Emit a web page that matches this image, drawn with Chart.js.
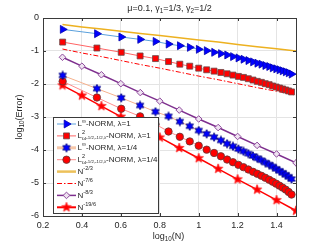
<!DOCTYPE html>
<html><head><meta charset="utf-8">
<script src="https://cdn.jsdelivr.net/npm/chart.js@4/dist/chart.umd.min.js"></script>
<style>html,body{margin:0;padding:0;background:#fff;overflow:hidden}</style>
</head><body>
<canvas id="c" width="327" height="245" style="width:327px;height:245px;display:block"></canvas>
<script>
// ---------- data ----------
const logN = [0.301,0.477,0.602,0.699,0.778,0.845,0.903,0.954,1.000,1.041,1.079,1.114,1.146,1.176,1.204,1.230,1.255,1.279,1.301,1.322,1.342,1.362,1.380,1.398,1.415,1.431,1.447,1.462,1.477];
const errLinfLam1 = [-0.345,-0.476,-0.576,-0.648,-0.71,-0.79,-0.84,-0.89,-0.95,-0.99,-1.04,-1.08,-1.12,-1.17,-1.21,-1.25,-1.29,-1.33,-1.37,-1.40,-1.44,-1.47,-1.51,-1.54,-1.57,-1.60,-1.63,-1.66,-1.70];
const errL2Lam1 = [-0.73,-0.91,-1.04,-1.15,-1.23,-1.32,-1.40,-1.46,-1.52,-1.57,-1.61,-1.65,-1.69,-1.73,-1.77,-1.80,-1.84,-1.88,-1.92,-1.95,-1.99,-2.02,-2.06,-2.09,-2.12,-2.15,-2.18,-2.21,-2.24];
const errLinfLam14 = [-1.74,-2.14,-2.42,-2.65,-2.84,-2.98,-3.14,-3.28,-3.41,-3.51,-3.61,-3.71,-3.81,-3.89,-3.97,-4.04,-4.11,-4.18,-4.25,-4.31,-4.38,-4.44,-4.50,-4.57,-4.63,-4.69,-4.75,-4.81,-4.88];
const errL2Lam14 = [-1.92,-2.41,-2.75,-2.98,-3.22,-3.44,-3.60,-3.74,-3.87,-3.99,-4.09,-4.19,-4.29,-4.37,-4.45,-4.52,-4.59,-4.66,-4.72,-4.78,-4.84,-4.90,-4.96,-5.02,-5.08,-5.14,-5.20,-5.27,-5.35];
const xRef = [0.3,0.4,0.5,0.6,0.7,0.8,0.9,1.0,1.1,1.2,1.3,1.4,1.5];
const refN23 = [-0.20,-0.27,-0.33,-0.40,-0.47,-0.53,-0.60,-0.67,-0.73,-0.80,-0.87,-0.93,-1.00];
const refN76 = [-0.94,-1.06,-1.17,-1.29,-1.41,-1.52,-1.64,-1.76,-1.87,-1.99,-2.11,-2.22,-2.34];
const refN83 = [-1.19,-1.46,-1.72,-1.99,-2.26,-2.52,-2.79,-3.06,-3.32,-3.59,-3.86,-4.12,-4.39];
const refN196 = [-2.04,-2.35,-2.67,-2.99,-3.30,-3.62,-3.94,-4.25,-4.57,-4.89,-5.20,-5.52,-5.84];
const xTickVals = [0.2,0.4,0.6,0.8,1.0,1.2,1.4];
const xTickLabels = ['0.2','0.4','0.6','0.8','1','1.2','1.4'];
const yTickVals = [-6,-5,-4,-3,-2,-1,0];
const yTickLabels = ['-6','-5','-4','-3','-2','-1','0'];

const FAM = "'Liberation Sans', Arial, Helvetica, sans-serif";
const TXT = '#262626';

function pts(xs, ys){ return xs.map((x,i)=>({x:x, y:ys[i]})); }

function starCanvas(n, rOut, rIn, fill, stroke, size){
  const c = document.createElement('canvas'); c.width = size; c.height = size;
  const g = c.getContext('2d'); g.beginPath();
  for (let i=0;i<n*2;i++){ const r = i%2 ? rIn : rOut; const a = -Math.PI/2 + i*Math.PI/n;
    g.lineTo(size/2 + r*Math.cos(a), size/2 + r*Math.sin(a)); }
  g.closePath(); g.fillStyle = fill; g.fill(); g.strokeStyle = stroke; g.lineWidth = 0.8; g.stroke();
  return c;
}
const penta = starCanvas(5, 5, 2.1, '#FF0000', '#FF2020', 12);
const hexa = starCanvas(6, 4.3, 2.4, '#0000FF', '#00007A', 10);

const series = [
  {key:'A', data:pts(logN, errLinfLam1), line:'#5AA0DC', lw:1, style:'triangle', rot:90, r:4.6, bg:'#0000FF', bc:'#0000B0', bw:0.8},
  {key:'B', data:pts(logN, errL2Lam1), line:'#FF6464', lw:1, style:'rect', rot:0, r:4.2, bg:'#FF0000', bc:'#6A4848', bw:0.8},
  {key:'C', data:pts(logN, errLinfLam14), line:'#F5B08C', lw:1, style:hexa, rot:0, r:4, bg:'#0000FF', bc:'#00007A', bw:0},
  {key:'D', data:pts(logN, errL2Lam14), line:'#FF8C8C', lw:1, style:'circle', rot:0, r:3.7, bg:'#FF0000', bc:'#603838', bw:0.8},
  {key:'E', data:pts(xRef, refN23), line:'#EDB120', lw:1.5, style:false},
  {key:'F', data:pts(xRef, refN76), line:'#FF0000', lw:1, style:false, dash:[5,2,1.5,2]},
  {key:'G', data:pts(xRef, refN83), line:'#7E2F8E', lw:1.5, style:'rectRot', rot:0, r:3.3, bg:'#EEE2F0', bc:'#8E4A9C', bw:1},
  {key:'H', data:pts(xRef, refN196), line:'#FF0000', lw:1.5, style:penta, rot:0, r:5, bg:'#FF0000', bc:'#FF0000', bw:0}
];

const datasets = series.map(s => ({
  data: s.data, showLine: true, borderColor: s.line, borderWidth: s.lw, borderDash: s.dash || [],
  pointStyle: s.style === false ? 'circle' : s.style,
  pointRadius: s.style === false ? 0 : s.r,
  pointRotation: s.rot || 0,
  pointBackgroundColor: s.bg || s.line, pointBorderColor: s.bc || s.line,
  pointBorderWidth: s.bw || 0, pointHoverRadius: s.style === false ? 0 : s.r,
  tension: 0, fill: false
}));

// rich text: parts [text, level, noAdvance]; level 0 normal, 1 sup, -1 sub, 3 tiny index
function rich(ctx, parts, x, y, base, draw){
  let cx = x;
  for (const p of parts){
    const t = p[0], lv = p[1], keep = p[2];
    let size = base, dy = 0;
    if (lv === 1){ size = base*0.7; dy = -base*0.38; }
    else if (lv === -1){ size = base*0.7; dy = base*0.32; }
    else if (lv === 3){ size = base*0.55; dy = base*0.2; }
    ctx.font = size + 'px ' + FAM;
    if (draw) ctx.fillText(t, cx, y + dy);
    if (!keep) cx += ctx.measureText(t).width;
  }
  return cx - x;
}
function richCentered(ctx, parts, cx, y, base){
  const w = rich(ctx, parts, 0, 0, base, false);
  rich(ctx, parts, cx - w/2, y, base, true);
}

const legendItems = [
  {s:0, text:[['L',0],['\u221E',1],['-NORM, \u03BB=1',0]]},
  {s:1, text:[['L',0],['2',1,true],['\u03C9',-1],['-1/2,-1/2,\u03BB',3],['-NORM, \u03BB=1',0]]},
  {s:2, text:[['L',0],['\u221E',1],['-NORM, \u03BB=1/4',0]], lw:3, lc:'#F6C7AA'},
  {s:3, text:[['L',0],['2',1,true],['\u03C9',-1],['-1/2,-1/2,\u03BB',3],['-NORM, \u03BB=1/4',0]]},
  {s:4, text:[['N',0],['-2/3',1]], lw:2.5, lc:'#EDC15A'},
  {s:5, text:[['N',0],['-7/6',1]]},
  {s:6, text:[['N',0],['-8/3',1]]},
  {s:7, text:[['N',0],['-19/6',1]], lw:2}
];

function drawMarker(ctx, s, x, y){
  if (s.style === false) return;
  ctx.save();
  ctx.fillStyle = s.bg; ctx.strokeStyle = s.bc; ctx.lineWidth = s.bw;
  if (Chart.helpers && Chart.helpers.drawPoint){
    Chart.helpers.drawPoint(ctx, {pointStyle:s.style, rotation:s.rot||0, radius:s.r, borderWidth:s.bw}, x, y);
  } else if (typeof s.style !== 'string'){
    ctx.drawImage(s.style, x - s.style.width/2, y - s.style.height/2);
  }
  ctx.restore();
}

const decor = {
  id: 'decor',
  afterDatasetsDraw(chart){
    const ctx = chart.ctx, a = chart.chartArea;
    const xs = chart.scales.x, ys = chart.scales.y;
    ctx.save();
    // axes box
    ctx.strokeStyle = '#3a3a3a'; ctx.lineWidth = 1;
    ctx.strokeRect(Math.round(a.left)+0.5, Math.round(a.top)+0.5, Math.round(a.right-a.left), Math.round(a.bottom-a.top));
    // inner ticks
    ctx.beginPath();
    xTickVals.forEach(v => { const px = Math.round(xs.getPixelForValue(v))+0.5;
      ctx.moveTo(px, a.bottom); ctx.lineTo(px, a.bottom-3); ctx.moveTo(px, a.top); ctx.lineTo(px, a.top+3); });
    yTickVals.forEach(v => { const py = Math.round(ys.getPixelForValue(v))+0.5;
      ctx.moveTo(a.left, py); ctx.lineTo(a.left+3, py); ctx.moveTo(a.right, py); ctx.lineTo(a.right-3, py); });
    ctx.stroke();
    // legend
    const L = 53.5, T = 117.5, W = 105, H = 96;
    ctx.fillStyle = '#fff'; ctx.fillRect(L, T, W, H);
    ctx.strokeStyle = '#3a3a3a'; ctx.lineWidth = 1; ctx.strokeRect(L, T, W, H);
    ctx.textBaseline = 'middle'; ctx.textAlign = 'left';
    legendItems.forEach((it, i) => {
      const s = series[it.s];
      const y = 124 + i*11.9;
      ctx.save();
      ctx.strokeStyle = it.lc || s.line; ctx.lineWidth = it.lw || s.lw;
      ctx.setLineDash(s.dash || []);
      ctx.beginPath(); ctx.moveTo(57, y); ctx.lineTo(76, y); ctx.stroke();
      ctx.restore();
      drawMarker(ctx, s, 66.5, y);
      ctx.fillStyle = TXT;
      rich(ctx, it.text, 77.5, y, 8, true);
    });
    ctx.restore();
  },
  afterDraw(chart){
    const ctx = chart.ctx;
    ctx.save();
    ctx.fillStyle = TXT; ctx.textBaseline = 'middle'; ctx.textAlign = 'left';
    richCentered(ctx, [['\u03BC=0.1, \u03B3',0],['1',-1],['=1/3, \u03B3',0],['2',-1],['=1/2',0]], 169.5, 8.5, 9);
    richCentered(ctx, [['log',0],['10',-1],['(N)',0]], 168.5, 236.5, 9);
    ctx.translate(19.5, 117); ctx.rotate(-Math.PI/2);
    richCentered(ctx, [['log',0],['10',-1],['(Error)',0]], 0, 0, 9);
    ctx.restore();
  }
};

new Chart(document.getElementById('c'), {
  type: 'scatter',
  data: { datasets },
  options: {
    responsive: false, animation: false, devicePixelRatio: 1,
    layout: { padding: { left: 0, right: 31, top: 18, bottom: 0 } },
    plugins: { legend: { display: false }, title: { display: false }, tooltip: { enabled: false } },
    scales: {
      x: {
        type: 'linear', min: 0.2, max: 1.5,
        afterBuildTicks: sc => { sc.ticks = xTickVals.map(v => ({ value: v })); },
        afterFit: sc => { sc.height = 29; },
        ticks: { autoSkip: false, maxRotation: 0, padding: 4, color: TXT, font: { family: FAM, size: 9 },
                 callback: (v, i) => xTickLabels[i] },
        grid: { color: '#e4e4e4', lineWidth: 1, drawTicks: false },
        border: { display: false }
      },
      y: {
        type: 'linear', min: -6, max: 0,
        afterBuildTicks: sc => { sc.ticks = yTickVals.map(v => ({ value: v })); },
        afterFit: sc => { sc.width = 43; },
        ticks: { autoSkip: false, padding: 4, color: TXT, font: { family: FAM, size: 9 },
                 callback: (v, i) => yTickLabels[i] },
        grid: { color: '#e4e4e4', lineWidth: 1, drawTicks: false },
        border: { display: false }
      }
    }
  },
  plugins: [decor]
});
</script>
</body></html>
